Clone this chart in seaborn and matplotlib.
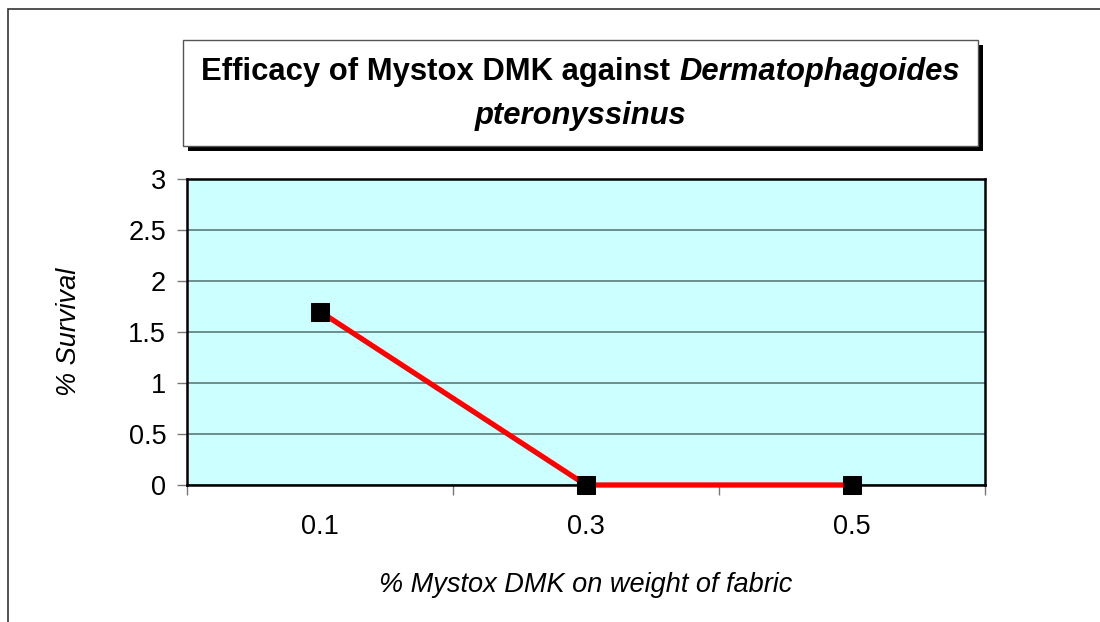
import matplotlib
matplotlib.use("Agg")
from matplotlib import pyplot as plt
from matplotlib.patches import Rectangle
import seaborn as sns
import pandas as pd

# data
doses = ["0.1", "0.3", "0.5"]
survival = [1.7, 0, 0]
y_ticks = [0, 0.5, 1, 1.5, 2, 2.5, 3]

W, H = 1100, 622

sns.set_theme(style="white")
plt.rcParams['font.family'] = ['Liberation Sans', 'DejaVu Sans']
plt.rcParams['text.color'] = 'black'
plt.rcParams['xtick.color'] = 'black'
plt.rcParams['ytick.color'] = 'black'
plt.rcParams['axes.labelcolor'] = 'black'

fig = plt.figure(figsize=(W / 100, H / 100), dpi=100)
fig.patch.set_facecolor("white")


def fx(px):
    return px / W


def fy(py):
    return 1 - py / H


# outer chart border (runs off the right and bottom edges)
fig.patches.append(Rectangle((fx(8), fy(640)), fx(1200), fy(9) - fy(640),
                             transform=fig.transFigure, fill=False,
                             edgecolor="#333333", linewidth=1.2))

# plot area
ax = fig.add_axes([fx(187), fy(485), fx(985) - fx(187), fy(179) - fy(485)])
ax.set_facecolor("#CCFFFF")

df = pd.DataFrame({"dose": doses, "survival": survival})
sns.lineplot(data=df, x="dose", y="survival", ax=ax, color="red",
             linewidth=3.8, marker="s", markersize=13,
             markerfacecolor="black", markeredgecolor="black", zorder=3,
             clip_on=False)

fs = 19.5
ax.set_xlim(-0.5, len(doses) - 0.5)
ax.set_ylim(0, 3)
ax.set_yticks(y_ticks)
ax.set_yticklabels([f"{t:g}" for t in y_ticks], fontsize=fs)
ax.yaxis.grid(True, color="#5a7a7a", linewidth=1.2)
ax.set_axisbelow(True)

# category boundary ticks (major) + labels at centers (minor)
ax.set_xticks([i - 0.5 for i in range(len(doses) + 1)])
ax.set_xticklabels([])
ax.set_xticks(range(len(doses)), minor=True)
ax.set_xticklabels(doses, minor=True, fontsize=fs)
ax.tick_params(axis="x", which="major", direction="out", length=7,
               width=1, color="#777777", bottom=True)
ax.tick_params(axis="x", which="minor", length=0, pad=21)
ax.tick_params(axis="y", direction="out", length=7, width=1,
               color="#777777", left=True, pad=8)

for s in ax.spines.values():
    s.set_color("black")
    s.set_linewidth(1.8)

ax.set_xlabel("% Mystox DMK on weight of fabric", fontsize=fs, style="italic")
ax.set_ylabel("% Survival", fontsize=fs, style="italic")
ax.xaxis.set_label_coords(0.5, -0.285)
ax.yaxis.set_label_coords(-0.132, 0.5)

# title box with shadow
bx0, by0, bx1, by1 = 183, 40, 978, 146
fig.patches.append(Rectangle((fx(bx0 + 5), fy(by1 + 5)), fx(bx1 - bx0), fy(by0) - fy(by1),
                             transform=fig.transFigure, facecolor="black",
                             edgecolor="black", linewidth=0, zorder=1))
fig.patches.append(Rectangle((fx(bx0), fy(by1)), fx(bx1 - bx0), fy(by0) - fy(by1),
                             transform=fig.transFigure, facecolor="white",
                             edgecolor="#555555", linewidth=1, zorder=2))

tsize = 22.3
cx = (bx0 + bx1) / 2
t1a = fig.text(fx(cx), fy(72), "Efficacy of Mystox DMK against ", fontsize=tsize,
               fontweight="bold", ha="right", va="center", zorder=3)
t1b = fig.text(fx(cx), fy(72), "Dermatophagoides", fontsize=tsize,
               fontweight="bold", style="italic", ha="left", va="center", zorder=3)
fig.text(fx(cx), fy(116), "pteronyssinus", fontsize=tsize, fontweight="bold",
         style="italic", ha="center", va="center", zorder=3)

# centre the mixed-style first line
fig.canvas.draw()
r = fig.canvas.get_renderer()
wa = t1a.get_window_extent(r).width
wb = t1b.get_window_extent(r).width
split = cx - (wa + wb) / 2 + wa
t1a.set_x(fx(split))
t1b.set_x(fx(split))

fig.savefig("out.png", dpi=100, facecolor="white")
